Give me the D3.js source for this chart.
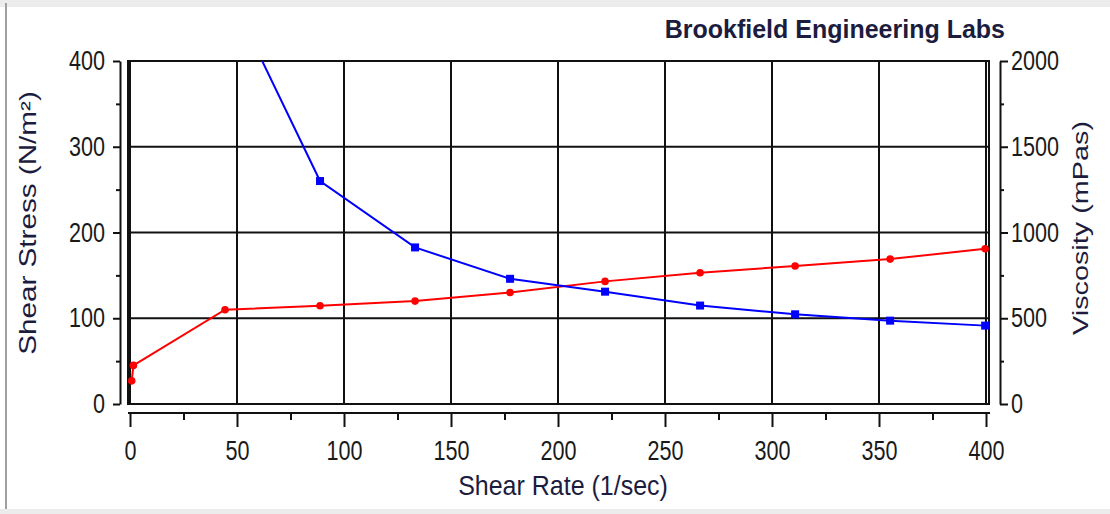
<!DOCTYPE html>
<html>
<head>
<meta charset="utf-8">
<script src="https://cdn.jsdelivr.net/npm/d3@7"></script>
<style>
  html, body { margin: 0; padding: 0; background: #fff; }
  svg { display: block; }
  text { font-family: "Liberation Sans", Arial, sans-serif; }
</style>
</head>
<body>
<svg id="chart" width="1110" height="514"></svg>
<script>
// ---- data ----
const shearRate = [0.8, 1.6, 44.4, 88.8, 133.2, 177.6, 222, 266.4, 310.8, 355.2, 399.6];
const shearStress = [27, 45, 110, 114.5, 120, 130, 143, 153, 161, 169, 181];
const viscRate = [44.4, 88.8, 133.2, 177.6, 222, 266.4, 310.8, 355.2, 399.6];
const viscosity = [2450, 1300, 913, 730, 655, 574, 523, 486, 457];
const xTicks = [0, 50, 100, 150, 200, 250, 300, 350, 400];
const yLeftTicks = [0, 100, 200, 300, 400];
const yRightTicks = [0, 500, 1000, 1500, 2000];
const titleText = "Brookfield Engineering Labs";
const xTitle = "Shear Rate (1/sec)";
const yLeftTitle = "Shear Stress (N/m\u00B2)";
const yRightTitle = "Viscosity (mPas)";

const svg = d3.select("#chart");
const W = 1110, H = 514;
const L = 130, R = 986, T = 61, B = 404;

// frame decoration
svg.append("rect").attr("x", 0).attr("y", 0).attr("width", W).attr("height", 7).attr("fill", "#ececec");
svg.append("rect").attr("x", 0).attr("y", 509).attr("width", W).attr("height", 5).attr("fill", "#ececec");
svg.append("rect").attr("x", 5).attr("y", 3).attr("width", 2).attr("height", 506).attr("fill", "#a0a0a0");

const x = d3.scaleLinear().domain([0, 400]).range([L, R]);
const yL = d3.scaleLinear().domain([0, 400]).range([B, T]);
const yR = d3.scaleLinear().domain([0, 2000]).range([B, T]);

// grid
const grid = svg.append("g").attr("stroke", "#111").attr("stroke-width", 2);
grid.selectAll(".gx").data(xTicks).join("line")
  .attr("x1", d => x(d)).attr("x2", d => x(d)).attr("y1", T).attr("y2", B);
grid.selectAll(".gy").data(yLeftTicks).join("line")
  .attr("x1", L).attr("x2", 989).attr("y1", d => yL(d)).attr("y2", d => yL(d));
// plot border
svg.append("rect").attr("x", 128).attr("y", T).attr("width", 989 - 128).attr("height", B - T)
  .attr("fill", "none").attr("stroke", "#111").attr("stroke-width", 2);

const tickFont = 27;
const sx = 0.8;
const tickColor = "#1a1a1a";

// bottom axis
const xAxis = d3.axisBottom(x).tickValues(xTicks).tickSize(14).tickSizeOuter(0);
const gx = svg.append("g").attr("transform", `translate(0,413)`).call(xAxis);
gx.select(".domain").remove();
gx.append("line").attr("x1", 128).attr("x2", 990).attr("y1", 0).attr("y2", 0).attr("stroke", "#111").attr("stroke-width", 2);
gx.selectAll(".tick text").attr("y", 47).attr("dy", 0).attr("transform", `scale(${sx},1)`);
const xMinor = d3.axisBottom(x).tickValues(d3.range(25, 400, 50)).tickSize(7).tickFormat("");
const gxm = svg.append("g").attr("transform", `translate(0,413)`).call(xMinor);
gxm.select(".domain").remove();

// left axis
const yAxisL = d3.axisLeft(yL).tickValues(yLeftTicks).tickSize(7).tickSizeOuter(0);
const gl = svg.append("g").attr("transform", `translate(120,0)`).call(yAxisL);
gl.selectAll(".tick text").attr("x", -15 / sx).attr("dy", "0.32em").attr("transform", `scale(${sx},1)`);
const lMinor = d3.axisLeft(yL).tickValues(d3.range(50, 400, 100)).tickSize(4).tickFormat("");
const glm = svg.append("g").attr("transform", `translate(120,0)`).call(lMinor);
glm.select(".domain").remove();

// right axis
const yAxisR = d3.axisRight(yR).tickValues(yRightTicks).tickFormat(d3.format("d")).tickSize(8).tickSizeOuter(0);
const gr = svg.append("g").attr("transform", `translate(1000,0)`).call(yAxisR);
gr.selectAll(".tick text").attr("x", 11 / sx).attr("dy", "0.32em").attr("transform", `scale(${sx},1)`);
const rMinor = d3.axisRight(yR).tickValues(d3.range(250, 2000, 500)).tickSize(4).tickFormat("");
const grm = svg.append("g").attr("transform", `translate(1000,0)`).call(rMinor);
grm.select(".domain").remove();

svg.selectAll(".tick line").attr("stroke", "#111").attr("stroke-width", 2);
svg.selectAll(".domain").attr("stroke", "#111").attr("stroke-width", 2);
svg.selectAll(".tick text").attr("font-size", tickFont).attr("fill", tickColor)
  .style("font-family", '"Liberation Sans", Arial, sans-serif');

// clip
svg.append("clipPath").attr("id", "clip").append("rect")
  .attr("x", L - 2).attr("y", T).attr("width", R - L + 6).attr("height", B - T);

// red series
const redPts = shearRate.map((r, i) => [r, shearStress[i]]);
const lineL = d3.line().x(d => x(d[0])).y(d => yL(d[1]));
svg.append("path").datum(redPts).attr("d", lineL)
  .attr("fill", "none").attr("stroke", "#ff0000").attr("stroke-width", 2);
svg.append("g").selectAll("circle").data(redPts).join("circle")
  .attr("cx", d => x(d[0])).attr("cy", d => yL(d[1])).attr("r", 3.8).attr("fill", "#ff0000");

// blue series
const bluePts = viscRate.map((r, i) => [r, viscosity[i]]);
const lineR = d3.line().x(d => x(d[0])).y(d => yR(d[1]));
const gb = svg.append("g").attr("clip-path", "url(#clip)");
gb.append("path").datum(bluePts).attr("d", lineR)
  .attr("fill", "none").attr("stroke", "#0000ff").attr("stroke-width", 2);
gb.selectAll("rect").data(bluePts).join("rect")
  .attr("x", d => x(d[0]) - 4).attr("y", d => yR(d[1]) - 4).attr("width", 8).attr("height", 8).attr("fill", "#0000ff");

// titles
const titleColor = "#1c1c3e";
svg.append("text").attr("x", 1005).attr("y", 38).attr("text-anchor", "end")
  .attr("font-size", 25).attr("font-weight", "bold").attr("fill", titleColor).text(titleText);
svg.append("text").attr("transform", "translate(563,495) scale(1,1.1)").attr("text-anchor", "middle")
  .attr("font-size", 25).attr("fill", titleColor).text(xTitle);
svg.append("text").attr("transform", "translate(36,223) rotate(-90) scale(1.29,1)").attr("text-anchor", "middle")
  .attr("font-size", 23).attr("fill", titleColor).text(yLeftTitle);
svg.append("text").attr("transform", "translate(1088,228) rotate(-90) scale(1.31,1)").attr("text-anchor", "middle")
  .attr("font-size", 22).attr("fill", titleColor).text(yRightTitle);
</script>
</body>
</html>
